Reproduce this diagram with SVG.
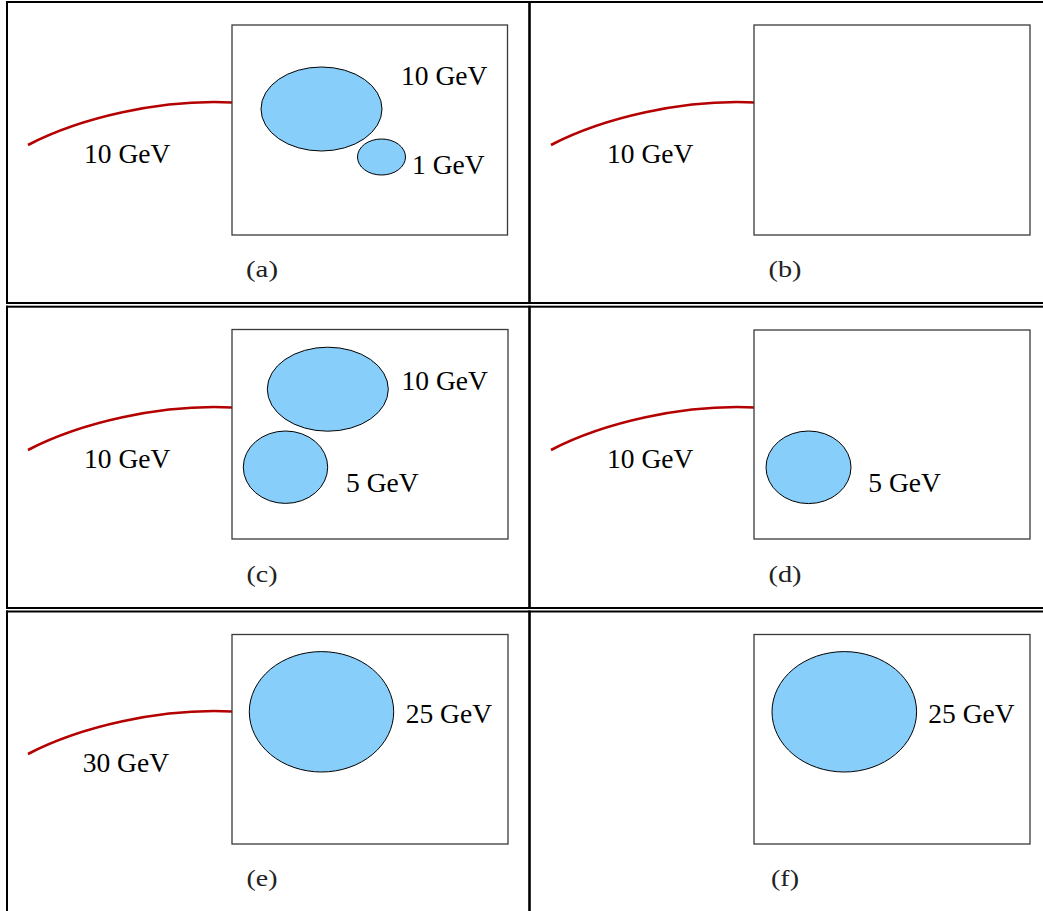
<svg xmlns="http://www.w3.org/2000/svg" width="1043" height="911" viewBox="0 0 1043 911">
  <style>
    .rule { fill: #000; }
    .frame { fill: #fff; stroke: #3a3a3a; stroke-width: 1.3; }
    .blob { fill: #87cefa; stroke: #000; stroke-width: 1; }
    .track { fill: none; stroke: #b40000; stroke-width: 2.6; stroke-linecap: butt; }
    .lbl { font-family: "Liberation Serif", "Times New Roman", serif; font-size: 27.5px; fill: #000; }
    .cap { font-family: "Liberation Serif", "Times New Roman", serif; font-size: 23px; fill: #222; text-anchor: middle; }
  </style>
  <defs>
    <path id="trk" d="M28,145 C80,118 160,99 232,102.5"/>
  </defs>
  <rect width="1043" height="911" fill="#fff"/>

  <!-- table rules -->
  <g id="table">
    <rect class="rule" x="6" y="1" width="1037" height="2"/>
    <rect class="rule" x="6" y="1" width="2" height="303"/>
    <rect class="rule" x="6" y="305.7" width="2" height="303.3"/>
    <rect class="rule" x="6" y="610.5" width="2" height="300.5"/>
    <rect class="rule" x="528.2" y="1" width="2.6" height="303"/>
    <rect class="rule" x="528.2" y="305.7" width="2.6" height="303.3"/>
    <rect class="rule" x="528.2" y="610.5" width="2.6" height="300.5"/>
    <rect class="rule" x="6" y="302" width="1037" height="2"/>
    <rect class="rule" x="6" y="305.7" width="1037" height="2"/>
    <rect class="rule" x="6" y="607" width="1037" height="2"/>
    <rect class="rule" x="6" y="610.5" width="1037" height="2"/>
  </g>

  <!-- incoming tracks -->
  <g id="connectors">
    <use href="#trk" class="track"/>
    <use href="#trk" class="track" transform="translate(523,0)"/>
    <use href="#trk" class="track" transform="translate(0,305)"/>
    <use href="#trk" class="track" transform="translate(523,305)"/>
    <use href="#trk" class="track" transform="translate(0,609)"/>
  </g>

  <!-- panel (a) -->
  <g id="panel-a">
    <rect class="frame" x="232" y="25" width="275.5" height="210"/>
    <ellipse class="blob" cx="321.5" cy="109" rx="60.5" ry="42"/>
    <ellipse class="blob" cx="381.5" cy="157" rx="24" ry="18"/>
    <text class="lbl" x="401" y="85">10 GeV</text>
    <text class="lbl" x="412" y="174">1 GeV</text>
    <text class="lbl" x="84" y="163">10 GeV</text>
    <text class="cap" x="262" y="277" textLength="32" lengthAdjust="spacingAndGlyphs">(a)</text>
  </g>

  <!-- panel (b) -->
  <g id="panel-b">
    <rect class="frame" x="754" y="25" width="276" height="210"/>
    <text class="lbl" x="607" y="163">10 GeV</text>
    <text class="cap" x="785" y="277" textLength="33" lengthAdjust="spacingAndGlyphs">(b)</text>
  </g>

  <!-- panel (c) -->
  <g id="panel-c">
    <rect class="frame" x="232" y="329.5" width="276" height="209.5"/>
    <ellipse class="blob" cx="327.8" cy="389.2" rx="60.5" ry="42"/>
    <ellipse class="blob" cx="285.5" cy="467.2" rx="42.2" ry="36.2"/>
    <text class="lbl" x="401.5" y="390">10 GeV</text>
    <text class="lbl" x="346" y="492">5 GeV</text>
    <text class="lbl" x="84" y="468">10 GeV</text>
    <text class="cap" x="262" y="582" textLength="31" lengthAdjust="spacingAndGlyphs">(c)</text>
  </g>

  <!-- panel (d) -->
  <g id="panel-d">
    <rect class="frame" x="754" y="330" width="276" height="209"/>
    <ellipse class="blob" cx="808.5" cy="467.3" rx="42.5" ry="36.3"/>
    <text class="lbl" x="868.3" y="492">5 GeV</text>
    <text class="lbl" x="607" y="468">10 GeV</text>
    <text class="cap" x="785" y="582" textLength="33" lengthAdjust="spacingAndGlyphs">(d)</text>
  </g>

  <!-- panel (e) -->
  <g id="panel-e">
    <rect class="frame" x="232" y="634.5" width="276" height="209.5"/>
    <ellipse class="blob" cx="321.5" cy="711.8" rx="72.2" ry="60.2"/>
    <text class="lbl" x="405.7" y="723">25 GeV</text>
    <text class="lbl" x="82.7" y="772">30 GeV</text>
    <text class="cap" x="262" y="886" textLength="31" lengthAdjust="spacingAndGlyphs">(e)</text>
  </g>

  <!-- panel (f) -->
  <g id="panel-f">
    <rect class="frame" x="754" y="634.5" width="276" height="209.5"/>
    <ellipse class="blob" cx="844.3" cy="711.8" rx="72.3" ry="60.2"/>
    <text class="lbl" x="928.3" y="723">25 GeV</text>
    <text class="cap" x="785" y="886" textLength="28" lengthAdjust="spacingAndGlyphs">(f)</text>
  </g>
</svg>
